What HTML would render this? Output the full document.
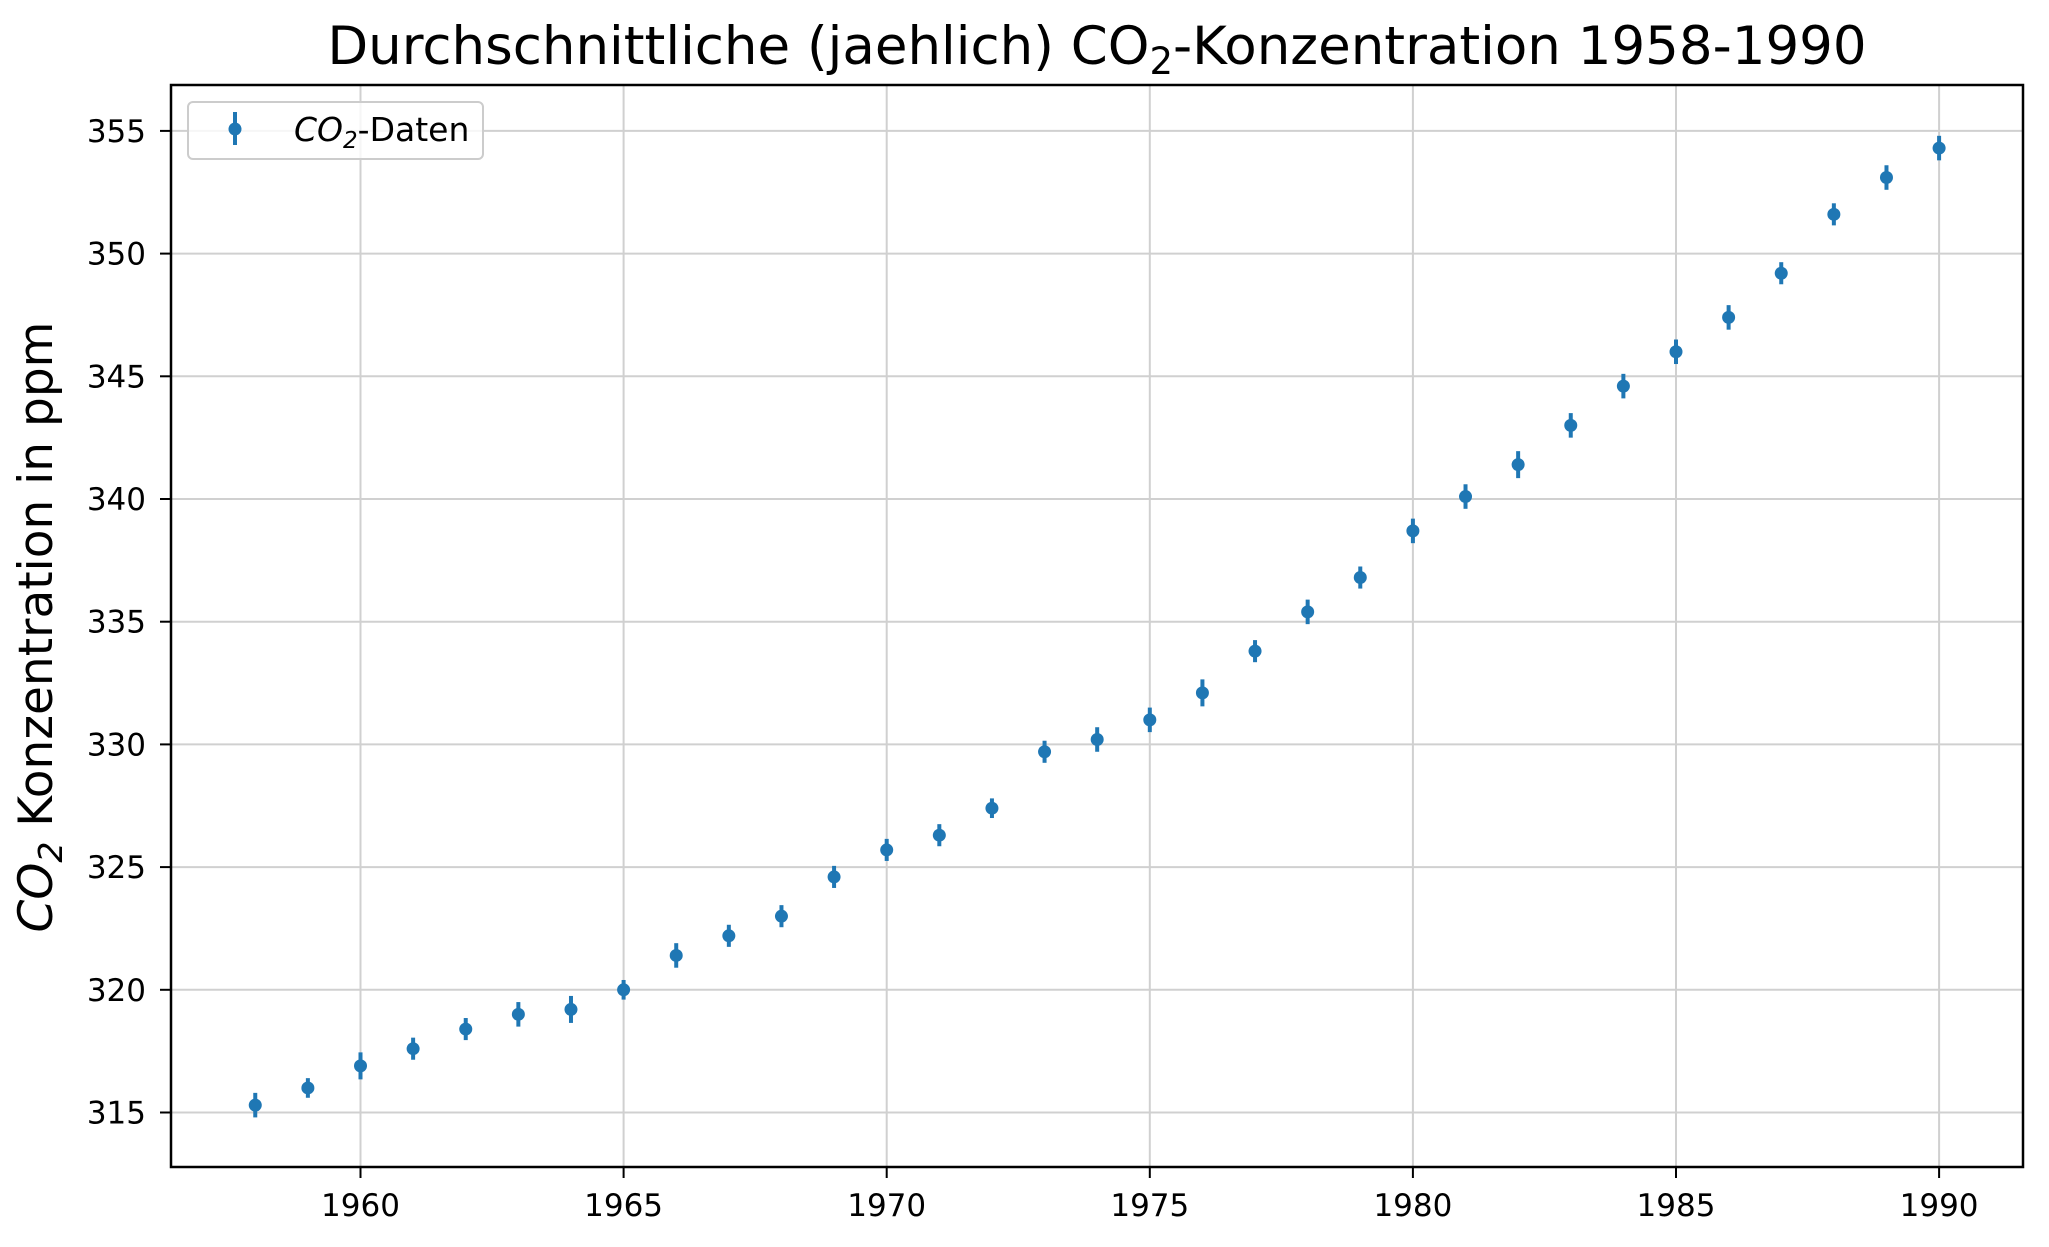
<!DOCTYPE html>
<html><head><meta charset="utf-8"><style>
html,body{margin:0;padding:0;background:#fff;}
svg{display:block;font-family:"DejaVu Sans","Liberation Sans",sans-serif;}
</style></head><body>
<svg id="chart" width="2049" height="1247" viewBox="0 0 2049 1247">
<rect width="2049" height="1247" fill="#fff"/>
<text x="1097" y="64" text-anchor="middle" font-size="53" fill="#000">Durchschnittliche (jaehlich) CO<tspan font-size="37" dy="10">2</tspan><tspan dy="-10">-Konzentration 1958-1990</tspan></text>
<text transform="translate(52,627) rotate(-90)" text-anchor="middle" font-size="47" fill="#000"><tspan font-style="italic">CO</tspan><tspan font-style="italic" font-size="33" dy="10">2</tspan><tspan dy="-10"> Konzentration in ppm</tspan></text>
<g id="grid"></g>
<g id="ticks"></g>
<g id="marks"></g>
<rect x="171" y="85" width="1852" height="1082" fill="none" stroke="#000" stroke-width="2.5"/>
<g>
<rect x="188" y="102" width="295" height="57" rx="5" fill="#fff" fill-opacity="0.8" stroke="#ccc" stroke-width="2"/>
<line x1="235" y1="112" x2="235" y2="145" stroke="#1f77b4" stroke-width="4"/>
<circle cx="235" cy="129" r="6.5" fill="#1f77b4"/>
<text x="294" y="141" font-size="33" fill="#000"><tspan font-style="italic">CO</tspan><tspan font-style="italic" font-size="23" dy="7">2</tspan><tspan dy="-7">-Daten</tspan></text>
</g>
</svg>
<script>
const years = [1958,1959,1960,1961,1962,1963,1964,1965,1966,1967,1968,1969,1970,1971,1972,1973,1974,1975,1976,1977,1978,1979,1980,1981,1982,1983,1984,1985,1986,1987,1988,1989,1990];
const co2 = [315.3,316.0,316.9,317.6,318.4,319.0,319.2,320.0,321.4,322.2,323.0,324.6,325.7,326.3,327.4,329.7,330.2,331.0,332.1,333.8,335.4,336.8,338.7,340.1,341.4,343.0,344.6,346.0,347.4,349.2,351.6,353.1,354.3];
const errs = [0.5,0.4,0.55,0.45,0.45,0.5,0.55,0.4,0.5,0.45,0.45,0.45,0.45,0.45,0.4,0.45,0.5,0.5,0.55,0.45,0.5,0.45,0.5,0.5,0.55,0.5,0.5,0.5,0.5,0.45,0.45,0.5,0.5];
const xTicks = [1960,1965,1970,1975,1980,1985,1990];
const yTicks = [315,320,325,330,335,340,345,350,355];

const NS = 'http://www.w3.org/2000/svg';
function xs(v){return 360.5 + (v-1960)*52.62;}
function ys(v){return 1112.5 - (v-315)*24.54;}
function mk(tag, attrs, parent){const e=document.createElementNS(NS,tag);for(const k in attrs)e.setAttribute(k,attrs[k]);parent.appendChild(e);return e;}
const grid=document.getElementById('grid'), ticks=document.getElementById('ticks'), marks=document.getElementById('marks');
xTicks.forEach(t=>{
  const x=xs(t);
  const g=mk('line',{x1:x,y1:85,x2:x,y2:1167,stroke:'#d0d0d0','stroke-width':2},grid);
  
  
  const tk=mk('line',{x1:x,y1:1167,x2:x,y2:1178,stroke:'#000','stroke-width':2},ticks);
  
  
  const lb=mk('text',{x:x,y:1216,'text-anchor':'middle','font-size':31,fill:'#000'},ticks);
  lb.textContent=t;
  
  
});
yTicks.forEach(t=>{
  const y=ys(t);
  const g=mk('line',{x1:171,y1:y,x2:2023,y2:y,stroke:'#d0d0d0','stroke-width':2},grid);
  
  
  const tk=mk('line',{x1:160,y1:y,x2:171,y2:y,stroke:'#000','stroke-width':2},ticks);
  
  
  const lb=mk('text',{x:146,y:y+11,'text-anchor':'end','font-size':31,fill:'#000'},ticks);
  lb.textContent=t;
  
  
});
years.forEach((yr,i)=>{
  const x=xs(yr), y=ys(co2[i]);
  const eb=mk('line',{x1:x,y1:ys(co2[i]+errs[i]),x2:x,y2:ys(co2[i]-errs[i]),stroke:'#1f77b4','stroke-width':4},marks);
  
  
  const pt=mk('circle',{cx:x,cy:y,r:6.5,fill:'#1f77b4'},marks);
  
  
});
</script>
</body></html>
